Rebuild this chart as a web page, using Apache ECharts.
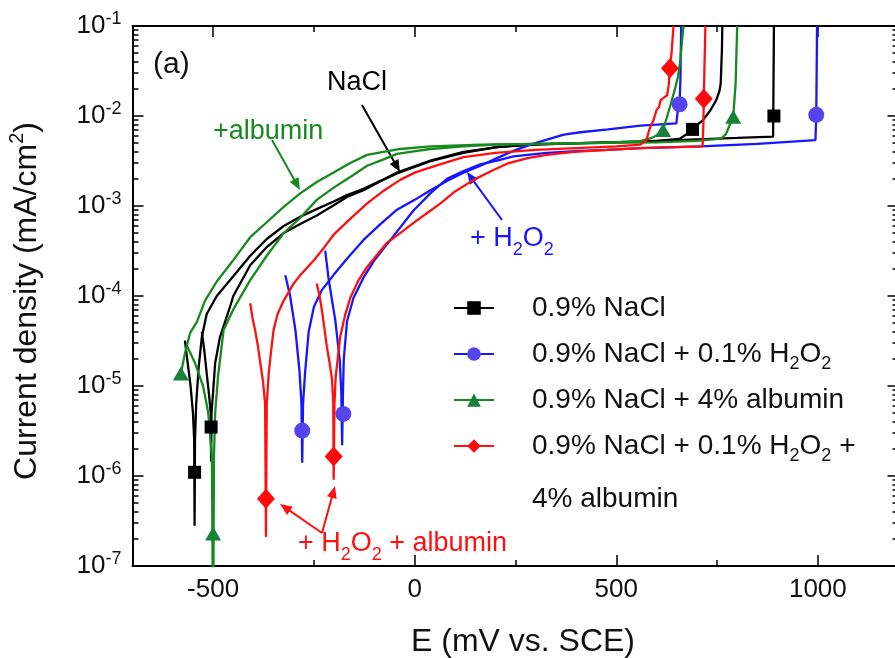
<!DOCTYPE html>
<html><head><meta charset="utf-8">
<script src="https://cdn.jsdelivr.net/npm/echarts@6/dist/echarts.min.js"></script>
<style>html,body{margin:0;padding:0;background:#fff}#c{width:895px;height:658px}</style>
</head><body><div id="c"></div>
<script>
// ---------------- data ----------------
const seriesNames = ['0.9% NaCl', '0.9% NaCl + 0.1% H2O2', '0.9% NaCl + 4% albumin', '0.9% NaCl + 0.1% H2O2 + 4% albumin'];
const legendLabels = ['0.9% NaCl', '0.9% NaCl + 0.1% H2O2', '0.9% NaCl + 4% albumin', '0.9% NaCl + 0.1% H2O2 +'];
const legendLine2 = '4% albumin';
const xMajorTicks = [-500, 0, 500, 1000];
const xMinorTicks = [-250, 250, 750];
const yMajorTicks = [1e-7, 1e-6, 1e-5, 1e-4, 1e-3, 1e-2, 1e-1];
const yMinorTicks = [2e-7,3e-7,4e-7,5e-7,6e-7,7e-7,8e-7,9e-7, 2e-6,3e-6,4e-6,5e-6,6e-6,7e-6,8e-6,9e-6,
  2e-5,3e-5,4e-5,5e-5,6e-5,7e-5,8e-5,9e-5, 2e-4,3e-4,4e-4,5e-4,6e-4,7e-4,8e-4,9e-4,
  2e-3,3e-3,4e-3,5e-3,6e-3,7e-3,8e-3,9e-3, 2e-2,3e-2,4e-2,5e-2,6e-2,7e-2,8e-2,9e-2];

// 0.9% NaCl (two runs)
const nacl1 = [[-570,3.2e-5],[-563,1.8e-5],[-556,1.0e-5],[-550,5.0e-6],[-547,2.5e-6],[-546,2.8e-7],[-545,2.5e-6],[-542,6.3e-6],[-536,1.6e-5],[-528,3.5e-5],[-516,6.3e-5],[-491,1.0e-4],[-450,1.66e-4],[-408,2.8e-4],[-367,4.3e-4],[-325,6.0e-4],[-284,7.6e-4],[-242,9.3e-4],[-201,1.12e-3],[-168,1.32e-3],[-127,1.55e-3],[-85,1.9e-3],[-44,2.35e-3],[39,3.2e-3],[121,4.0e-3],[204,4.5e-3],[287,4.8e-3],[411,5.0e-3],[500,5.1e-3],[600,5.25e-3],[658,5.6e-3],[675,6.3e-3],[689,7.1e-3],[703,8.1e-3],[715,9.0e-3],[733,1.15e-2],[748,1.5e-2],[756,1.9e-2],[759,2.3e-2],[762,5.4e-2],[763,0.1]];
const nacl2 = [[-528,4.0e-5],[-522,2.5e-5],[-515,1.26e-5],[-510,7.9e-6],[-506,5.0e-6],[-505,1.45e-6],[-504,5.0e-6],[-499,1.0e-5],[-495,1.8e-5],[-483,3.5e-5],[-458,7.6e-5],[-450,1.0e-4],[-408,2.2e-4],[-367,3.5e-4],[-325,5.0e-4],[-284,6.3e-4],[-242,7.9e-4],[-201,1.02e-3],[-168,1.26e-3],[-127,1.5e-3],[-85,1.88e-3],[-44,2.3e-3],[39,3.15e-3],[121,3.9e-3],[204,4.5e-3],[287,4.8e-3],[411,5.0e-3],[550,5.2e-3],[700,5.5e-3],[800,5.7e-3],[889,5.9e-3],[891,0.1]];
const naclMarks = [[-546,1.1e-6],[-505,3.5e-6],[689,7.1e-3],[891,1.0e-2]];

// 0.9% NaCl + 0.1% H2O2
const h2o2a = [[-321,1.7e-4],[-309,1.0e-4],[-296,4.2e-5],[-286,1.5e-5],[-281,6.5e-6],[-279,1.4e-6],[-277,6.3e-6],[-272,1.4e-5],[-263,4.0e-5],[-250,7.6e-5],[-230,1.17e-4],[-200,1.74e-4],[-168,2.6e-4],[-127,4.2e-4],[-85,6.3e-4],[-44,9.1e-4],[0,1.17e-3],[39,1.5e-3],[80,1.9e-3],[121,2.35e-3],[163,2.8e-3],[204,3.4e-3],[245,4.1e-3],[287,4.8e-3],[330,5.5e-3],[370,6.2e-3],[411,6.6e-3],[480,7.1e-3],[560,7.8e-3],[649,8.3e-3],[653,1.2e-2],[657,1.35e-2],[659,2.5e-2],[661,0.1]];
const h2o2b = [[-222,3.2e-4],[-214,1.6e-4],[-205,8.9e-5],[-197,5.4e-5],[-186,1.95e-5],[-182,8.3e-6],[-180,2.2e-6],[-178,8.3e-6],[-176,1.95e-5],[-168,5.2e-5],[-152,9.5e-5],[-127,1.6e-4],[-100,2.5e-4],[-60,4.2e-4],[-3,8.9e-4],[40,1.4e-3],[80,2.0e-3],[121,2.45e-3],[163,2.9e-3],[204,3.2e-3],[245,3.55e-3],[328,3.9e-3],[411,4.1e-3],[477,4.2e-3],[560,4.4e-3],[709,4.6e-3],[850,4.9e-3],[994,5.4e-3],[996,1.0e-2],[998,0.1]];
const h2o2Marks = [[-279,3.2e-6],[-177,4.9e-6],[657,1.35e-2],[996,1.03e-2]];

// 0.9% NaCl + 4% albumin
const albA = [[-580,1.38e-5],[-570,2.3e-5],[-557,3.9e-5],[-540,5.2e-5],[-520,8.9e-5],[-491,1.45e-4],[-450,2.5e-4],[-408,4.5e-4],[-367,6.6e-4],[-325,9.8e-4],[-284,1.38e-3],[-242,1.86e-3],[-201,2.35e-3],[-160,3.0e-3],[-118,3.7e-3],[-77,4.0e-3],[-36,4.3e-3],[39,4.6e-3],[163,4.8e-3],[300,4.9e-3],[450,5.0e-3],[560,5.25e-3],[590,5.75e-3],[605,6.3e-3],[616,7.0e-3],[625,9.5e-3],[633,1.26e-2],[645,1.95e-2],[653,2.75e-2],[659,4.2e-2],[664,7.6e-2],[667,0.1]];
const albB = [[-565,2.8e-5],[-545,1.8e-5],[-525,1.0e-5],[-512,5.0e-6],[-503,1.6e-6],[-500,1e-8],[-498,1.6e-6],[-495,5.0e-6],[-488,1.26e-5],[-474,4.2e-5],[-450,7.1e-5],[-408,1.5e-4],[-367,2.8e-4],[-325,5.0e-4],[-284,7.4e-4],[-243,1.17e-3],[-201,1.6e-3],[-160,2.1e-3],[-118,2.8e-3],[-77,3.3e-3],[-44,3.8e-3],[6,4.1e-3],[39,4.3e-3],[121,4.6e-3],[200,4.8e-3],[400,5.0e-3],[600,5.1e-3],[700,5.3e-3],[760,5.6e-3],[772,6.3e-3],[782,8.1e-3],[790,9.8e-3],[796,2.3e-2],[798,5.0e-2],[800,0.1]];
const albMarks = [[-580,1.38e-5],[-500,2.3e-7],[616,7.0e-3],[790,9.8e-3]];

// 0.9% NaCl + 0.1% H2O2 + 4% albumin
const mixA = [[-408,8.3e-5],[-402,5.6e-5],[-396,4.2e-5],[-389,2.8e-5],[-383,1.8e-5],[-376,1.1e-5],[-371,6.3e-6],[-369,2.1e-7],[-367,6.3e-6],[-362,1.4e-5],[-356,2.5e-5],[-350,4.2e-5],[-340,6.3e-5],[-325,8.9e-5],[-300,1.38e-4],[-284,1.7e-4],[-250,2.5e-4],[-226,3.4e-4],[-201,4.8e-4],[-160,7.2e-4],[-118,1.07e-3],[-77,1.48e-3],[-36,1.95e-3],[0,2.35e-3],[47,2.75e-3],[121,3.5e-3],[200,3.9e-3],[300,4.2e-3],[400,4.4e-3],[500,4.6e-3],[560,4.8e-3],[575,5.4e-3],[580,6.6e-3],[586,7.9e-3],[592,8.9e-3],[596,8.9e-3],[600,1.17e-2],[606,1.26e-2],[610,1.5e-2],[618,1.6e-2],[622,1.6e-2],[626,1.7e-2],[630,2.2e-2],[633,3.4e-2],[637,5.0e-2],[642,0.1]];
const mixB = [[-243,1.38e-4],[-236,1.0e-4],[-230,6.9e-5],[-224,4.4e-5],[-218,2.75e-5],[-211,1.8e-5],[-205,1.17e-5],[-202,6.3e-6],[-201,9.1e-7],[-199,6.3e-6],[-196,1.26e-5],[-190,2.2e-5],[-185,3.5e-5],[-172,6.3e-5],[-160,9.5e-5],[-140,1.48e-4],[-118,2.1e-4],[-69,3.9e-4],[-36,5.0e-4],[-3,6.5e-4],[30,8.3e-4],[64,1.07e-3],[100,1.45e-3],[146,1.95e-3],[190,2.45e-3],[229,2.95e-3],[280,3.4e-3],[328,3.7e-3],[395,4.0e-3],[480,4.2e-3],[560,4.4e-3],[650,4.5e-3],[714,4.6e-3],[716,7.9e-3],[717,1.55e-2],[719,4.0e-2],[721,0.1]];
const mixMarks = [[-369,5.6e-7],[-201,1.65e-6],[633,3.4e-2],[717,1.55e-2]];

// ---------------- styling ----------------
const FONT = "'Liberation Sans', Arial, sans-serif";
const TXT = '#111';
const groups = [
  {name: seriesNames[0], runs: [nacl1, nacl2], marks: naclMarks, line: '#000000', fill: '#000000', symbol: 'rect', size: 13},
  {name: seriesNames[1], runs: [h2o2a, h2o2b], marks: h2o2Marks, line: '#1616ff', fill: '#5544ee', symbol: 'circle', size: 16},
  {name: seriesNames[2], runs: [albA, albB], marks: albMarks, line: '#168a1e', fill: '#17813a', symbol: 'triangle', size: [16, 14]},
  {name: seriesNames[3], runs: [mixA, mixB], marks: mixMarks, line: '#ff1010', fill: '#ff0a0a', symbol: 'diamond', size: [18, 20]}
];

const series = [];
groups.forEach(g => {
  g.runs.forEach(run => series.push({
    type: 'line', name: g.name, data: run, symbol: g.symbol, showSymbol: false,
    lineStyle: {color: g.line, width: 2.3}, itemStyle: {color: g.fill, opacity: 1}, silent: true, z: 2
  }));
});
groups.forEach(g => {
  series.push({
    type: 'scatter', name: g.name, data: g.marks, symbol: g.symbol, symbolSize: g.size,
    itemStyle: {color: g.fill, opacity: 1}, silent: true, z: 4
  });
});

const axLine = {show: true, onZero: false, lineStyle: {color: '#000', width: 2}};
const noLine = {show: false, onZero: false};
const tickStyle = {color: '#000', width: 1.5};
const xBase = {type: 'value', min: -700, max: 1200, gridIndex: 0, splitLine: {show: false}, axisLabel: {show: false}};
const yBase = {type: 'log', logBase: 10, min: 1e-7, max: 1e-1, gridIndex: 0, splitLine: {show: false}, axisLabel: {show: false}};

const xAxis = [
  Object.assign({}, xBase, {position: 'bottom', axisLine: axLine,
    axisTick: {show: true, inside: true, length: 11, customValues: xMajorTicks, lineStyle: tickStyle},
    axisLabel: {show: true, customValues: xMajorTicks, margin: 11, fontSize: 26, fontFamily: FONT, color: TXT,
      formatter: v => String(v)}}),
  Object.assign({}, xBase, {position: 'bottom', axisLine: noLine,
    axisTick: {show: true, inside: true, length: 6, customValues: xMinorTicks, lineStyle: tickStyle}}),
  Object.assign({}, xBase, {position: 'top', axisLine: axLine,
    axisTick: {show: true, inside: true, length: 11, customValues: xMajorTicks, lineStyle: tickStyle}}),
  Object.assign({}, xBase, {position: 'top', axisLine: noLine,
    axisTick: {show: true, inside: true, length: 6, customValues: xMinorTicks, lineStyle: tickStyle}})
];
const yAxis = [
  Object.assign({}, yBase, {position: 'left', axisLine: axLine,
    axisTick: {show: true, inside: true, length: 11, customValues: yMajorTicks, lineStyle: tickStyle},
    axisLabel: {show: true, customValues: yMajorTicks, margin: 11, fontSize: 26, lineHeight: 32, fontFamily: FONT, color: TXT,
      formatter: v => '10{sup|' + Math.round(Math.log10(v)) + '}',
      rich: {sup: {fontSize: 18, lineHeight: 18, verticalAlign: 'top', fontFamily: FONT, color: TXT}}}}),
  Object.assign({}, yBase, {position: 'left', axisLine: noLine,
    axisTick: {show: true, inside: true, length: 6, customValues: yMinorTicks, lineStyle: tickStyle}}),
  Object.assign({}, yBase, {position: 'right', axisLine: axLine,
    axisTick: {show: true, inside: true, length: 11, customValues: yMajorTicks, lineStyle: tickStyle}}),
  Object.assign({}, yBase, {position: 'right', axisLine: noLine,
    axisTick: {show: true, inside: true, length: 6, customValues: yMinorTicks, lineStyle: tickStyle}})
];

function arrow(x1, y1, x2, y2, color) {
  const dx = x2 - x1, dy = y2 - y1, L = Math.hypot(dx, dy), ux = dx / L, uy = dy / L;
  const hl = 12, hw = 5;
  const bx = x2 - ux * hl, by = y2 - uy * hl;
  return [
    {type: 'line', silent: true, shape: {x1: x1, y1: y1, x2: bx + ux * 2, y2: by + uy * 2}, style: {stroke: color, lineWidth: 2}},
    {type: 'polygon', silent: true, shape: {points: [[x2, y2], [bx - uy * hw, by + ux * hw], [bx + uy * hw, by - ux * hw]]}, style: {fill: color}}
  ];
}
function label(text, x, y, size, color, extra) {
  return Object.assign({type: 'text', x: x, y: y, silent: true,
    style: {text: text, fontSize: size, fontFamily: FONT, fill: color, align: 'left', verticalAlign: 'middle',
      lineHeight: 40, rich: {sub: {fontSize: 18, lineHeight: 18, verticalAlign: 'bottom', fontFamily: FONT, fill: color},
                             sup: {fontSize: 20, lineHeight: 20, verticalAlign: 'top', fontFamily: FONT, fill: color}}}}, extra || {});
}

const graphics = [].concat(
  [label('(a)', 153, 65, 30, TXT)],
  [label('NaCl', 327, 83, 27, '#000')],
  arrow(362, 105, 400, 172, '#000'),
  [label('+albumin', 213, 132, 27, '#168a1e')],
  arrow(272, 140, 300, 190, '#168a1e'),
  [label('+ H{sub|2}O{sub|2}', 470, 239, 27, '#1616ff')],
  arrow(502, 220, 467, 172, '#1616ff'),
  [label('+ H{sub|2}O{sub|2} + albumin', 298, 544, 27, '#ff1010')],
  arrow(322, 533, 280, 504, '#ff1010'),
  arrow(322, 533, 335, 486, '#ff1010'),
  [label(legendLine2, 532, 499, 28, TXT)],
  [label('E (mV vs. SCE)', 523, 642, 32, TXT, {})],
  [label('Current density (mA/cm{sup|2})', 27, 301, 32, TXT, {rotation: Math.PI / 2})]
);
// center the axis titles
graphics[graphics.length - 2].style.align = 'center';
graphics[graphics.length - 1].style.align = 'center';

const chart = echarts.init(document.getElementById('c'), null, {renderer: 'canvas', width: 895, height: 658});
chart.setOption({
  animation: false,
  backgroundColor: '#ffffff',
  grid: {left: 132.5, top: 26, width: 766, height: 540, containLabel: false, outerBoundsMode: 'none'},
  xAxis: xAxis,
  yAxis: yAxis,
  legend: {
    data: seriesNames, orient: 'vertical', left: 453, top: 289, padding: 0,
    itemWidth: 40, itemHeight: 17, itemGap: 8, selectedMode: false,
    formatter: name => legendLabels[seriesNames.indexOf(name)].replace(/H2O2/g, 'H{sub|2}O{sub|2}'),
    textStyle: {fontSize: 28, fontFamily: FONT, color: TXT, lineHeight: 38, padding: [0, 0, 0, 33],
      rich: {sub: {fontSize: 18, lineHeight: 18, verticalAlign: 'bottom', fontFamily: FONT, color: TXT}}}
  },
  graphic: graphics,
  series: series
});
</script>
</body></html>
